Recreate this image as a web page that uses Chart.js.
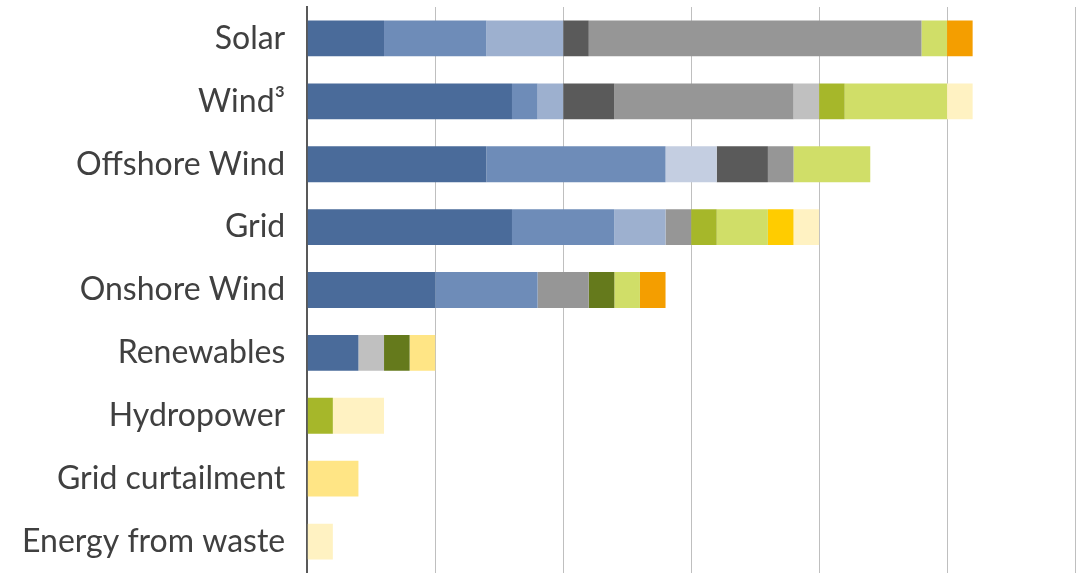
<!DOCTYPE html>
<html>
<head>
<meta charset="utf-8">
<script src="https://cdn.jsdelivr.net/npm/chart.js@4"></script>
<style>
  html, body { margin: 0; padding: 0; background: #fff; }
  #wrap { width: 1076px; height: 573px; position: relative; }
</style>
</head>
<body>
<div id="wrap"><canvas id="myChart"></canvas></div>
<script>
/* categories, top to bottom */
const categories = ['Solar', 'Wind\u00B3', 'Offshore Wind', 'Grid', 'Onshore Wind', 'Renewables', 'Hydropower', 'Grid curtailment', 'Energy from waste'];

/* series values, one per category */
const darkBlue    = [3, 8, 7, 8, 5, 2, 0, 0, 0];
const midBlue     = [4, 1, 7, 4, 4, 0, 0, 0, 0];
const lightBlue   = [3, 1, 0, 2, 0, 0, 0, 0, 0];
const paleBlue    = [0, 0, 2, 0, 0, 0, 0, 0, 0];
const darkGray    = [1, 2, 2, 0, 0, 0, 0, 0, 0];
const midGray     = [13, 7, 1, 1, 2, 0, 0, 0, 0];
const lightGray   = [0, 1, 0, 0, 0, 1, 0, 0, 0];
const darkGreen   = [0, 0, 0, 0, 1, 1, 0, 0, 0];
const olive       = [0, 1, 0, 1, 0, 0, 1, 0, 0];
const lime        = [1, 4, 3, 2, 1, 0, 0, 0, 0];
const yellow      = [0, 0, 0, 1, 0, 0, 0, 0, 0];
const orange      = [1, 0, 0, 0, 1, 0, 0, 0, 0];
const lightYellow = [0, 0, 0, 0, 0, 1, 0, 2, 0];
const paleYellow  = [0, 1, 0, 1, 0, 0, 2, 0, 1];

/* x axis range */
const xMin = 0;
const xMax = 30;
const xStep = 5;

const series = [
  {data: darkBlue, color: '#4A6B9A'},
  {data: midBlue, color: '#6E8CB8'},
  {data: lightBlue, color: '#9DB0CF'},
  {data: paleBlue, color: '#C4CEE1'},
  {data: darkGray, color: '#5A5A5A'},
  {data: midGray, color: '#969696'},
  {data: lightGray, color: '#C0C0C0'},
  {data: darkGreen, color: '#657A1C'},
  {data: olive, color: '#A6B72A'},
  {data: lime, color: '#D0DE68'},
  {data: yellow, color: '#FFCC00'},
  {data: orange, color: '#F49E00'},
  {data: lightYellow, color: '#FFE585'},
  {data: paleYellow, color: '#FFF2C2'},
];

const ctx = document.getElementById('myChart').getContext('2d');

const chart = new Chart(ctx, {
  type: 'bar',
  data: {
    labels: categories,
    datasets: series.map(function(s){
      return {
        data: s.data,
        backgroundColor: s.color,
        borderWidth: 0,
        barPercentage: 0.57,
        categoryPercentage: 1,
      };
    }),
  },
  options: {
    indexAxis: 'y',
    responsive: true,
    maintainAspectRatio: false,
    animation: false,
    layout: {padding: {top: 7, right: 1, bottom: 0, left: 0}},
    plugins: {
      legend: {display: false},
      tooltip: {enabled: false},
    },
    scales: {
      x: {
        stacked: true,
        min: xMin,
        max: xMax,
        ticks: {display: false, stepSize: xStep},
        grid: {color: '#BFBFBF', lineWidth: 1, drawTicks: false},
        border: {display: false},
      },
      y: {
        stacked: true,
        grid: {display: false, drawTicks: false},
        border: {display: true, color: '#595959', width: 2},
        ticks: {
          color: '#404040',
          padding: 22,
          font: {family: 'Lato', size: 32},
        },
        // labels sit mid-category, so no extra room is needed above/below
        afterFit: function(scale){
          scale.paddingTop = 0;
          scale.paddingBottom = 0;
        },
      },
    },
  },
});
</script>
</body>
</html>
